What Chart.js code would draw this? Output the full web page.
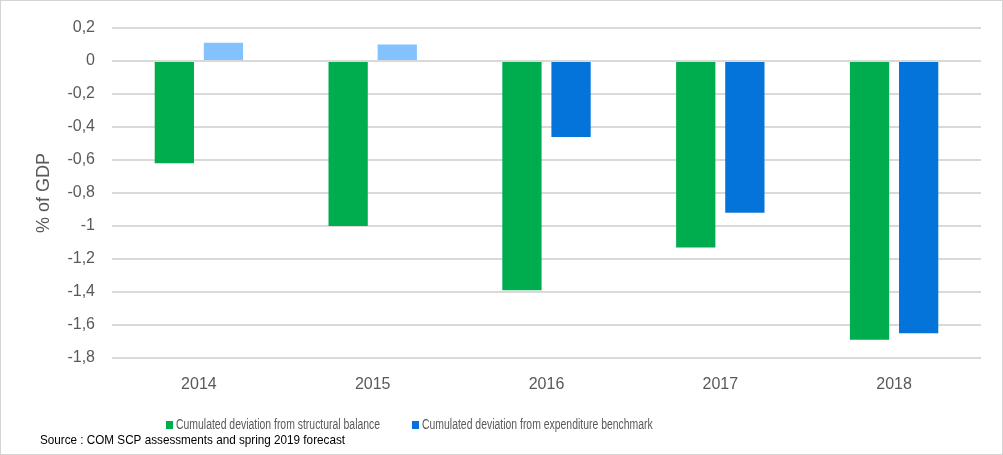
<!DOCTYPE html>
<html>
<head>
<meta charset="utf-8">
<script src="https://cdn.jsdelivr.net/npm/chart.js@4"></script>
<style>
  html, body { margin: 0; padding: 0; background: #fff; }
  #wrap { width: 1003px; height: 455px; box-sizing: border-box; border: 1px solid #d4d4d4; position: relative; }
  canvas { display: block; }
</style>
</head>
<body>
<div id="wrap"><canvas id="chart" width="1001" height="453"></canvas></div>
<script>
// chart data
const years = ['2014', '2015', '2016', '2017', '2018'];
const structuralDev = [-0.62, -1.0, -1.39, -1.13, -1.69];
const expenditureDev = [0.11, 0.10, -0.46, -0.92, -1.65];
const yTicks = [0.2, 0, -0.2, -0.4, -0.6, -0.8, -1, -1.2, -1.4, -1.6, -1.8];

const green = '#00AD4E';
const blue = '#0574DA';
const lightBlue = '#84C1FF';
const textColor = '#595959';
const gridColor = '#d9d9d9';

// positive bars of the benchmark series are drawn lighter
const expenditureColors = expenditureDev.map(v => v > 0 ? lightBlue : blue);

const fontFamily = '"Liberation Sans", Arial, sans-serif';

// draws narrowed text (the original uses a condensed office font)
function narrowText(ctx, text, x, y, font, color, squeeze) {
    ctx.save();
    ctx.translate(x, y);
    ctx.scale(squeeze, 1);
    ctx.font = font;
    ctx.fillStyle = color;
    ctx.fillText(text, 0, 0);
    ctx.restore();
}

// legend + source line, drawn by hand so they sit left of centre like the original
const bottomNotes = {
    id: 'bottomNotes',
    afterDraw(chart) {
        const ctx = chart.ctx;
        const swatches = [green, blue];
        const startX = [165, 411];
        const y = 424;
        ctx.save();
        ctx.textBaseline = 'middle';
        chart.data.datasets.forEach((ds, i) => {
            ctx.fillStyle = swatches[i];
            ctx.fillRect(startX[i], y - 4, 7, 8);
            narrowText(ctx, ds.label, startX[i] + 10, y, '14px ' + fontFamily, textColor, 0.745);
        });
        narrowText(ctx, 'Source : COM SCP assessments and spring 2019 forecast', 39, 439,
            '13px ' + fontFamily, '#000', 0.9);
        ctx.restore();
    }
};

const ctx = document.getElementById('chart').getContext('2d');
new Chart(ctx, {
    type: 'bar',
    data: {
        labels: years,
        datasets: [
            {
                label: 'Cumulated deviation from structural balance',
                data: structuralDev,
                backgroundColor: green,
                barPercentage: 0.8,
                categoryPercentage: 0.565
            },
            {
                label: 'Cumulated deviation from expenditure benchmark',
                data: expenditureDev,
                backgroundColor: expenditureColors,
                barPercentage: 0.8,
                categoryPercentage: 0.565
            }
        ]
    },
    options: {
        responsive: false,
        animation: false,
        layout: {
            padding: { left: 0, right: 21, top: 27, bottom: 65 }
        },
        scales: {
            y: {
                min: -1.8,
                max: 0.2,
                afterFit(scale) { scale.width = 111; },
                afterBuildTicks(scale) { scale.ticks = yTicks.map(v => ({ value: v })); },
                ticks: {
                    color: textColor,
                    padding: 17,
                    font: { family: fontFamily, size: 16 },
                    callback: v => String(Math.round(v * 10) / 10).replace('.', ',')
                },
                grid: { color: gridColor, lineWidth: 2, drawTicks: false },
                border: { display: false },
                title: {
                    display: true,
                    text: '% of GDP',
                    color: textColor,
                    font: { family: fontFamily, size: 18 },
                    padding: { top: 32, bottom: 0 }
                }
            },
            x: {
                afterFit(scale) { scale.height = 31; },
                ticks: {
                    color: textColor,
                    padding: 9,
                    font: { family: fontFamily, size: 16 }
                },
                grid: { display: false },
                border: { display: false }
            }
        },
        plugins: {
            legend: { display: false },
            tooltip: { enabled: false }
        }
    },
    plugins: [bottomNotes]
});
</script>
</body>
</html>
